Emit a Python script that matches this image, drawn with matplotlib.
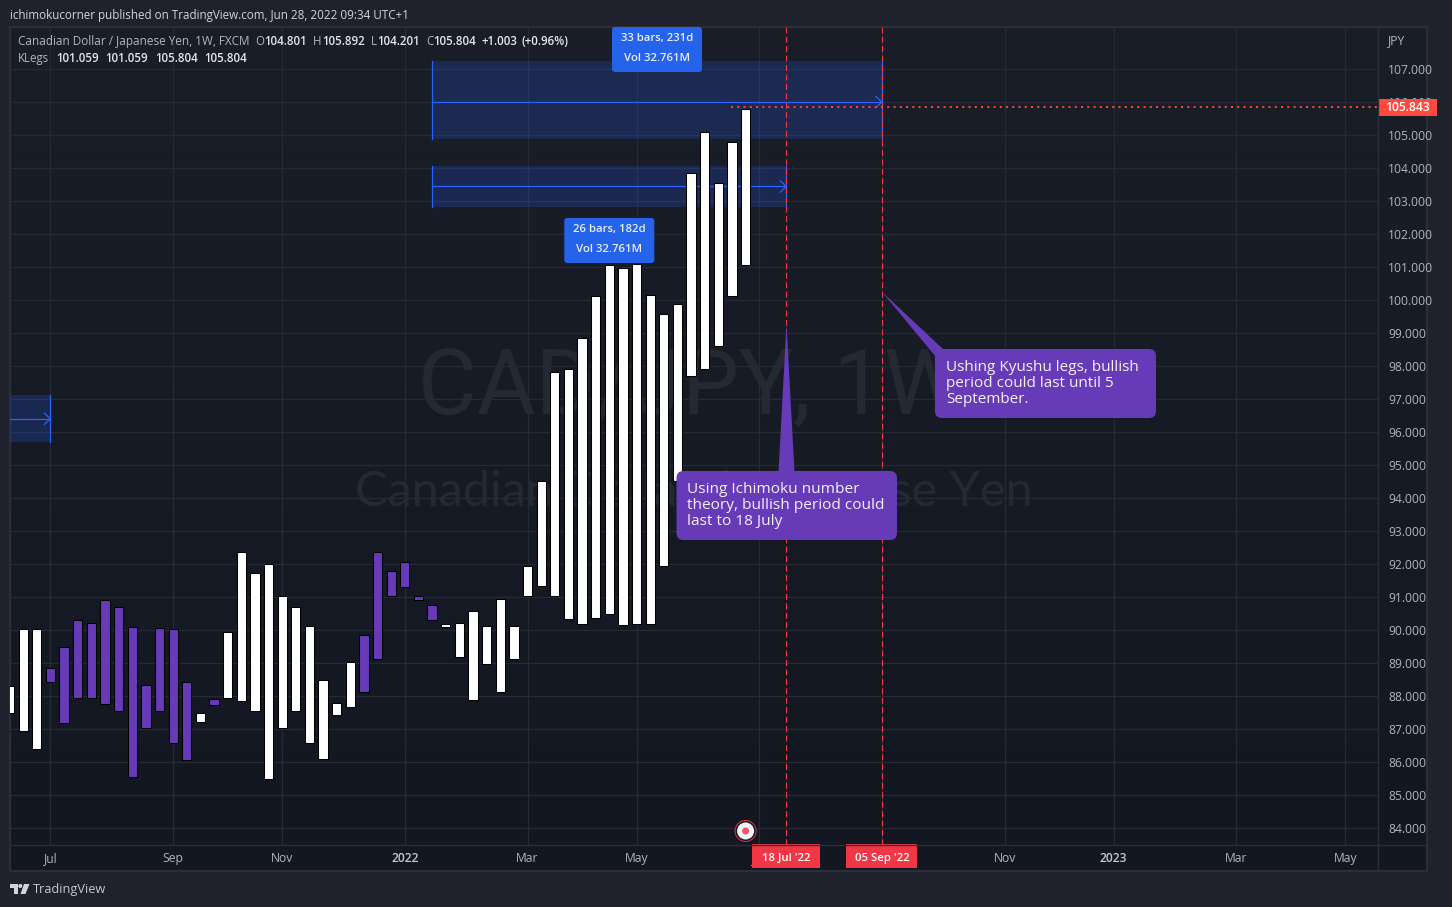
import matplotlib
matplotlib.use('Agg')
import matplotlib.pyplot as plt
import numpy as np
from matplotlib.patches import FancyBboxPatch, Rectangle, Polygon, Circle

plt.rcParams['font.family'] = ['Open Sans', 'DejaVu Sans']

W, H = 1452, 907

# weekly bars, index 0 is the cut off bar at the left edge
bar_top = [88.31, 90.02, 90.02, 88.84, 89.50, 90.29, 90.20, 90.90, 90.69, 90.08,
           88.32, 90.05, 90.02, 88.41, 87.47, 87.90, 89.93, 92.35, 91.72, 91.99,
           91.02, 90.69, 90.11, 88.50, 87.78, 89.02, 89.84, 92.35, 91.78, 92.05,
           91.02, 90.75, 90.17, 90.20, 90.59, 90.11, 90.93, 90.11, 91.93, 94.52,
           97.81, 97.90, 98.84, 100.11, 101.05, 100.96, 101.08, 100.14, 99.57, 99.87,
           103.84, 105.08, 103.54, 104.78, 105.78]
bar_bottom = [87.47, 86.93, 86.40, 88.41, 87.17, 87.93, 87.93, 87.75, 87.54, 85.56,
              87.02, 87.54, 86.57, 86.05, 87.20, 87.72, 87.93, 87.84, 87.54, 85.50,
              87.02, 87.54, 86.57, 86.08, 87.41, 87.66, 88.11, 89.11, 91.02, 91.31,
              90.92, 90.29, 90.08, 89.17, 87.87, 88.96, 88.11, 89.11, 91.02, 91.32,
              91.02, 90.32, 90.17, 90.35, 90.47, 90.14, 90.17, 90.17, 91.93, 94.52,
              97.69, 97.90, 98.60, 100.11, 101.05]
purple_bars = [3, 4, 5, 6, 7, 8, 9, 10, 11, 12, 13, 15, 26, 27, 28, 29, 30, 31]

x_tick_pos = [3, 12, 20, 29, 38, 46, 55, 64, 73, 81, 90, 98]
# the Sep label at index 64 sits fully under the date tag
x_tick_labels = ['Jul', 'Sep', 'Nov', '2022', 'Mar', 'May', 'Jul', '', 'Nov', '2023', 'Mar', 'May']
y_ticks = list(range(84, 108))

# bars-pattern ranges: start, end, low, high, middle line
ranges_start = [-4, 31, 31]
ranges_end = [3, 57, 64]
ranges_low = [95.70, 102.82, 104.88]
ranges_high = [97.12, 104.06, 107.24]
ranges_mid = [96.40, 103.44, 106.00]

last_price = 105.843
date_marks = [57, 64]
date_labels = ["18 Jul '22", "05 Sep '22"]

BG_OUT = '#1f222d'
GRID = '#262a35'
BORDER = '#2a2e39'
BLUE = '#2962ff'
LABEL_BLUE = '#2563eb'
PURPLE = '#673ab7'
RED = '#f23645'
GRAY = '#b2b5be'
LIGHT = '#e4e6ec'


def frac(x0, y0, x1, y1):
    return [x0 / W, 1 - y1 / H, (x1 - x0) / W, (y1 - y0) / H]


fig = plt.figure(figsize=(W / 100, H / 100), dpi=100, facecolor=BG_OUT)

# background layer in pixel coordinates
back = fig.add_axes([0, 0, 1, 1], zorder=0)
back.set_xlim(0, W)
back.set_ylim(H, 0)
back.axis('off')
grad = np.linspace(0, 1, 256).reshape(-1, 1)
c0 = np.array([0x1a, 0x1e, 0x29]) / 255
c1 = np.array([0x13, 0x17, 0x22]) / 255
img = (c0 + (c1 - c0) * grad[..., None]).reshape(256, 1, 3)
back.imshow(img, extent=(10, 1427, 871, 27), aspect='auto', zorder=0)
back.set_xlim(0, W)
back.set_ylim(H, 0)
back.add_patch(Rectangle((10, 27), 1417, 844, fill=False, ec=BORDER, lw=1.6, zorder=1))
back.text(691, 389, 'CAD/JPY, 1W', color='#252933', fontsize=65, family=['Roboto', 'DejaVu Sans'],
          ha='center', va='center', zorder=2)
back.text(694, 492, 'Canadian Dollar / Japanese Yen', color='#252933', fontsize=35, family=['Lato', 'DejaVu Sans'],
          ha='center', va='center', zorder=2)

# main chart
ax = fig.add_axes(frac(10, 27, 1378, 845), zorder=1)
ax.patch.set_alpha(0)
ax.set_xlim(0.03, 100.40)
ax.set_ylim(93 - (845 - 531) / 33, 93 + (531 - 27) / 33)
for s in ax.spines.values():
    s.set_visible(False)

ax.set_xticks(x_tick_pos)
ax.set_xticklabels(x_tick_labels)
ax.set_yticks(y_ticks)
ax.set_yticklabels(['%d.000' % v for v in y_ticks])
ax.yaxis.tick_right()
ax.tick_params(axis='both', length=0, labelsize=8.7, labelcolor=GRAY)
ax.tick_params(axis='y', pad=7.2)
ax.tick_params(axis='x', pad=5.2)
for lab in ax.get_xticklabels():
    if lab.get_text() in ('2022', '2023'):
        lab.set_fontweight('semibold')
        lab.set_color('#c4c7cf')
ax.grid(True, color=GRID, lw=0.9, zorder=0)
ax.set_axisbelow(True)

for i in range(len(ranges_start)):
    s, e = ranges_start[i], ranges_end[i]
    lo, hi, mid = ranges_low[i], ranges_high[i], ranges_mid[i]
    ax.add_patch(Rectangle((s, lo), e - s, hi - lo, fc=BLUE, alpha=0.2, ec='none', zorder=1))
    ax.plot([s, s], [lo, hi], color=BLUE, lw=0.9, zorder=1.2)
    ax.plot([e, e], [lo, hi], color=BLUE, lw=0.9, zorder=1.2)
    ax.plot([s, e], [mid, mid], color=BLUE, lw=0.9, zorder=1.2)
    ax.plot([e - 0.45, e, e - 0.45], [mid + 0.17, mid, mid - 0.17], color=BLUE, lw=0.9, zorder=1.2)

x = np.arange(len(bar_top))
tops = np.array(bar_top)
bottoms = np.array(bar_bottom)
colors = [PURPLE if i in purple_bars else 'white' for i in x]
ax.bar(x, tops - bottoms, bottom=bottoms, width=0.68, color=colors, edgecolor='black', lw=0.75, zorder=3)

for d in date_marks:
    ax.axvline(d, color=RED, lw=0.8, ls=(0, (5.5, 3)), zorder=4)
ax.plot([52.96, 100.40], [last_price, last_price], color='#f44336', lw=1.5, ls=(0, (1, 2)), zorder=4)

# top layer, pixel coordinates
top = fig.add_axes([0, 0, 1, 1], zorder=2)
top.patch.set_alpha(0)
top.set_xlim(0, W)
top.set_ylim(H, 0)
top.axis('off')


def px(i, p):
    dx, dy = ax.transData.transform((i, p))
    return dx, H - dy


def ui(xp, yp, s, color=GRAY, size=8.7, weight='normal', ha='left'):
    top.text(xp, yp, s, color=color, fontsize=size, fontweight=weight, ha=ha, va='center')


def rbox(x0, y0, x1, y1, r, color):
    top.add_patch(FancyBboxPatch((x0 + r, y0 + r), x1 - x0 - 2 * r, y1 - y0 - 2 * r,
                                 boxstyle='round,pad=%f,rounding_size=%f' % (r, r),
                                 fc=color, ec='none'))


# header texts
ui(10, 15, 'ichimokucorner published on TradingView.com, Jun 28, 2022 09:34 UTC+1', color='#d1d4dc', size=8.35)
ui(18, 41.5, 'Canadian Dollar / Japanese Yen, 1W, FXCM', size=8.45)
for xp, s, c, w in [(255, 'O', GRAY, 'normal'), (264, '104.801', LIGHT, 'semibold'),
                    (313, 'H', GRAY, 'normal'), (322, '105.892', LIGHT, 'semibold'),
                    (371, 'L', GRAY, 'normal'), (377, '104.201', LIGHT, 'semibold'),
                    (426, 'C', GRAY, 'normal'), (433, '105.804', LIGHT, 'semibold'),
                    (482, '+1.003', LIGHT, 'semibold'), (522, '(+0.96%)', LIGHT, 'semibold')]:
    ui(xp, 41.5, s, color=c, weight=w, size=8.3)
ui(18, 58.5, 'KLegs', size=8.3)
for xp, s in [(56, '101.059'), (105, '101.059'), (155, '105.804'), (204, '105.804')]:
    ui(xp, 58.5, s, color=LIGHT, weight='semibold', size=8.3)
ui(1388, 41, 'JPY')

top.plot([1378, 1378], [27, 871], color=BORDER, lw=1)
top.plot([10, 1427], [845, 845], color=BORDER, lw=1)

# price tag
_, tag_y = px(0, last_price)
top.add_patch(Rectangle((1378, tag_y - 8.5), 59, 17, fc='#ff4a3d', ec='none'))
ui(1407.5, tag_y + 0.5, '%.3f' % last_price, color='white', ha='center', weight='semibold')

# date tags
for d, lab, half in zip(date_marks, date_labels, [34, 35.5]):
    xc, _ = px(d, 90)
    top.add_patch(Rectangle((xc - half, 844), 2 * half, 24, fc=RED, ec='none'))
    ui(xc, 858.5, lab, color='white', ha='center', weight='semibold', size=8.2)

# measure labels above the ranges
for mid_i, y0, txt1, txt2 in [(47.5, 27, '33 bars, 231d', 'Vol 32.761M'), (44, 218, '26 bars, 182d', 'Vol 32.761M')]:
    xc, _ = px(mid_i, 90)
    rbox(xc - 45, y0, xc + 45, y0 + 45, 3, LABEL_BLUE)
    ui(xc, y0 + 11.5, txt1, color='#e8edff', ha='center', weight='semibold', size=8.2)
    ui(xc, y0 + 31.5, txt2, color='#e8edff', ha='center', weight='semibold', size=8.2)

# callouts
tip1 = px(57, 99.27)
top.add_patch(Polygon([tip1, (794.5, 472), (778.5, 472)], fc=PURPLE, ec='none'))
rbox(676.5, 471, 897, 540, 7, PURPLE)
for k, line in enumerate(['Using Ichimoku number', 'theory, bullish period could', 'last to 18 July']):
    ui(687, 489.5 + 16 * k, line, color='#f4f1fb', size=11.1)

tip2 = px(64, 100.25)
top.add_patch(Polygon([tip2, (944, 350), (936, 357)], fc=PURPLE, ec='none'))
rbox(935, 349, 1156, 418, 7, PURPLE)
for k, line in enumerate(['Ushing Kyushu legs, bullish', 'period could last until 5', 'September.']):
    ui(946, 367.5 + 16 * k, line, color='#f4f1fb', size=11)

# earnings style marker under the last bar
cx, _ = px(54, 90)
for r, c in [(11, '#e0303f'), (10, '#131722'), (8.5, '#f0f3fa'), (3.5, '#f7525f')]:
    top.add_patch(Circle((cx, 831), r, fc=c, ec='none'))

# footer logo
logo = '#d1d4dc'
top.add_patch(Polygon([(10, 884), (18, 884), (18, 894), (14, 894), (14, 888), (10, 888)], fc=logo, ec='none'))
top.add_patch(Circle((20.3, 886), 2, fc=logo, ec='none'))
top.add_patch(Polygon([(24, 884), (29.5, 884), (25.5, 894), (20.5, 894)], fc=logo, ec='none'))
ui(33, 889.5, 'TradingView', color='#c4c7cf', size=9.2)

fig.savefig('out.png', dpi=100, facecolor=BG_OUT)
